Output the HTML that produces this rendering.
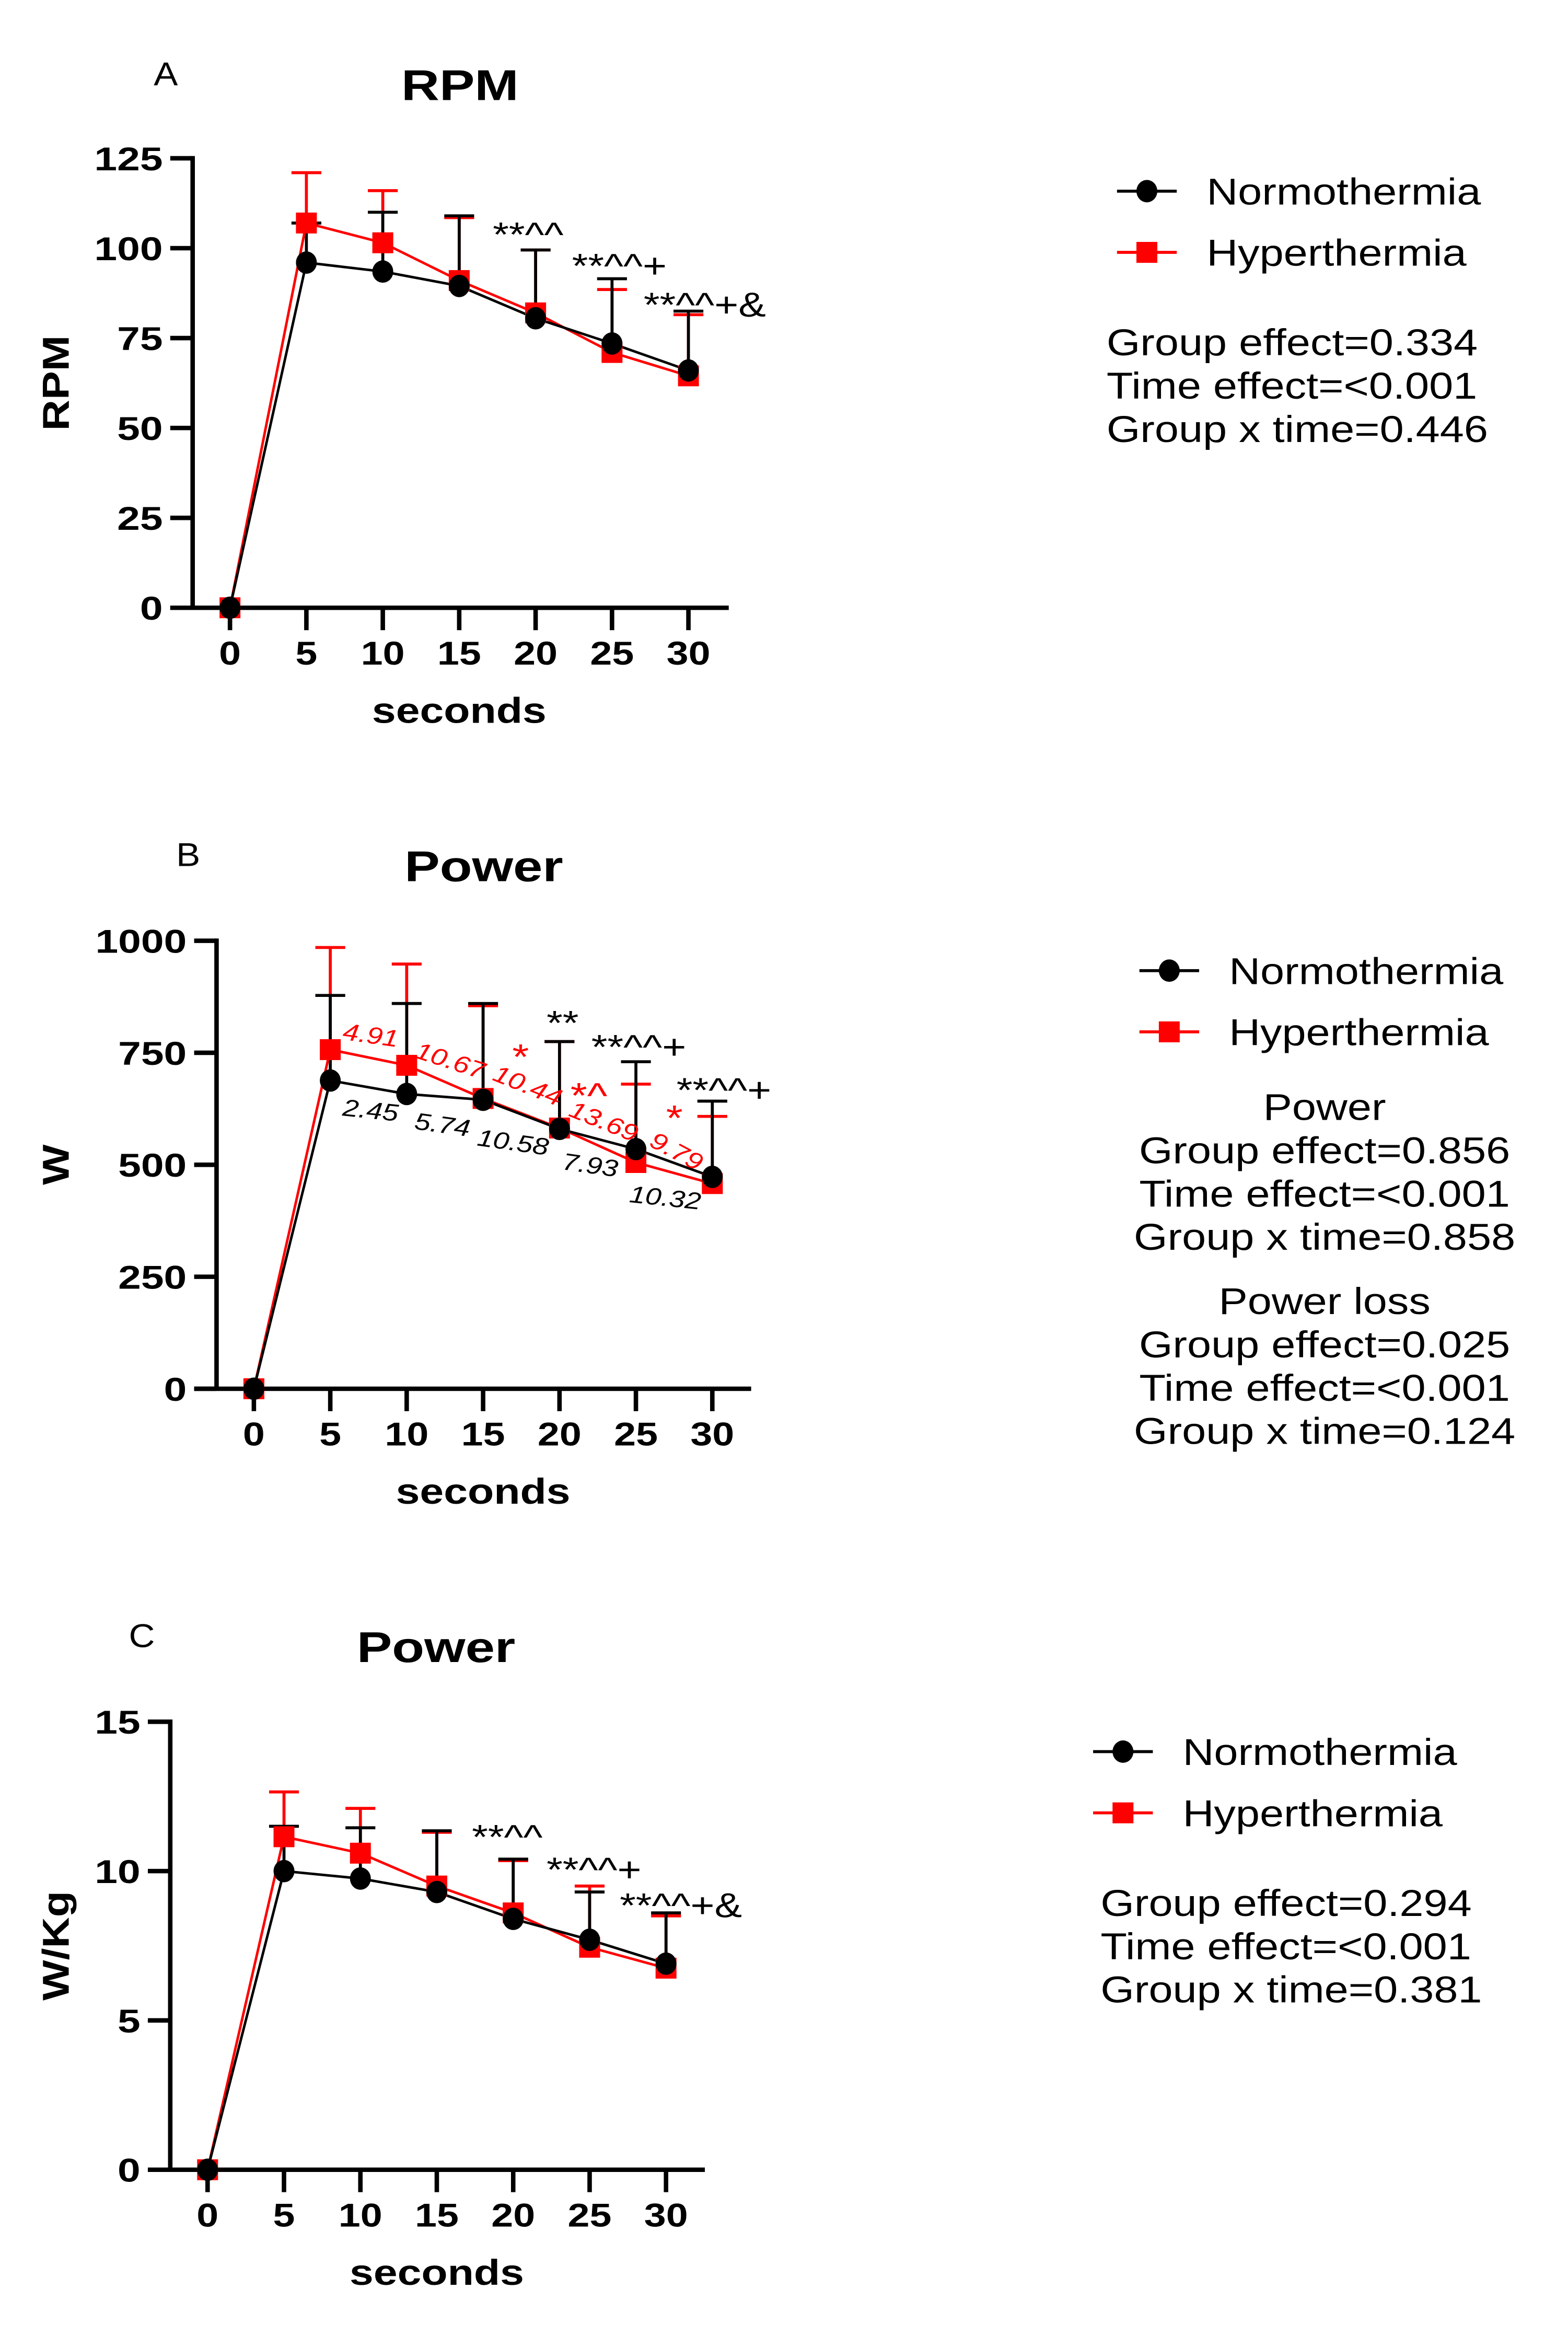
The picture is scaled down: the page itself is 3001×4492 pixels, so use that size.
<!DOCTYPE html>
<html><head><meta charset="utf-8"><style>
html,body{margin:0;padding:0;background:#fff}
svg{display:block}
text{font-family:"Liberation Sans",Arial,sans-serif}
.b{font-weight:bold}
</style></head><body>
<svg id="fig" xmlns="http://www.w3.org/2000/svg" width="3001" height="4492" viewBox="0 0 1050 1571.7">
<g id="static"></g>
</svg>
<script>
const xCats = [0,5,10,15,20,25,30];
const xTickLabels = ["0","5","10","15","20","25","30"];
const rpmNormo = [0,96,93.5,89.5,80.5,73.5,66];
const rpmNormoTop = [0,107,110,109,99.5,91.5,82.5];
const rpmHyper = [0,107,101.5,91,82,71,64.5];
const rpmHyperTop = [0,121,116,108.5,99.5,88.5,81.5];
const rpmTicks = [0,25,50,75,100,125];
const wNormo = [0,688,658,645,580,535,473];
const wNormoTop = [0,878,860,860,775,730,642];
const wHyper = [0,757,722,648,582,505,458];
const wHyperTop = [0,985,948,855,775,680,608];
const wTicks = [0,250,500,750,1000];
const wkgNormo = [0,10,9.75,9.3,8.4,7.7,6.9];
const wkgNormoTop = [0,11.5,11.45,11.35,10.4,9.3,8.6];
const wkgHyper = [0,11.15,10.6,9.5,8.6,7.45,6.75];
const wkgHyperTop = [0,12.65,12.1,11.3,10.35,9.5,8.5];
const wkgTicks = [0,5,10,15];
const NS='http://www.w3.org/2000/svg';
const svg=document.getElementById('fig');
function mk(tag,attrs,parent,txt){const e=document.createElementNS(NS,tag);for(const k in attrs)e.setAttribute(k,attrs[k]);if(txt!==undefined)e.textContent=txt;(parent||svg).appendChild(e);return e;}

function panel(p){
  const g=mk('g',{});
  
  
  const ymax=p.ticks[p.ticks.length-1];
  const X=v=>p.x0+(v/30)*(p.x30-p.x0);
  const Y=v=>p.y0+(v/ymax)*(p.yTop-p.y0);
  const ya=mk('line',{x1:p.ax,y1:p.yTop-1.5,x2:p.ax,y2:p.y0,stroke:'#000','stroke-width':3},g);
  
  
  const xa=mk('line',{x1:p.ax-15,y1:p.y0,x2:p.xEnd,y2:p.y0,stroke:'#000','stroke-width':3},g);
  
  
  p.ticks.forEach(t=>{
    mk('line',{x1:p.ax-15,y1:Y(t),x2:p.ax,y2:Y(t),stroke:'#000','stroke-width':3},g);
    const tl=mk('text',{x:p.ax-20,y:Y(t)+8,'text-anchor':'end','font-size':22,'class':'b','data-s':1.25},g,String(t));
    
    
  });
  xCats.forEach((c,i)=>{
    mk('line',{x1:X(c),y1:p.y0,x2:X(c),y2:p.y0+15,stroke:'#000','stroke-width':3},g);
    const tl=mk('text',{x:X(c),y:p.y0+38,'text-anchor':'middle','font-size':22,'class':'b','data-s':1.2},g,xTickLabels[i]);
    
    
  });
  function err(vals,tops,col,nm){
    vals.forEach((v,i)=>{ if(i===0)return;
      const e=mk('path',{d:`M${X(xCats[i])},${Y(v)}V${Y(tops[i])}M${X(xCats[i])-10},${Y(tops[i])}H${X(xCats[i])+10}`,stroke:col,'stroke-width':2,fill:'none'},g);
      
      
    });
  }
  err(p.hyper,p.hyperTop,'#f00','error-bar-hyperthermia');
  err(p.normo,p.normoTop,'#000','error-bar-normothermia');
  const lh=mk('polyline',{points:p.hyper.map((v,i)=>X(xCats[i])+','+Y(v)).join(' '),stroke:'#f00','stroke-width':1.7,fill:'none'},g);
  
  
  const ln=mk('polyline',{points:p.normo.map((v,i)=>X(xCats[i])+','+Y(v)).join(' '),stroke:'#000','stroke-width':1.7,fill:'none'},g);
  
  
  p.hyper.forEach((v,i)=>{
    const s=mk('rect',{x:X(xCats[i])-7,y:Y(v)-7,width:14,height:14,fill:'#f00'},g);
    
    
  });
  p.normo.forEach((v,i)=>{
    const c=mk('ellipse',{cx:X(xCats[i]),cy:Y(v),rx:7,ry:7.5,fill:'#000'},g);
    
    
  });
  const t=mk('text',{x:p.titleX,y:p.titleY,'text-anchor':'middle','font-size':29,'class':'b','data-s':1.22},g,p.title);
  
  
  const xl=mk('text',{x:(X(0)+X(30))/2,y:p.y0+77,'text-anchor':'middle','font-size':24,'class':'b','data-s':1.2},g,'seconds');
  
  
  const yl=mk('text',{x:0,y:0,'text-anchor':'middle','font-size':25,'class':'b','data-s':1.15,transform:`translate(${p.ylx},${(p.y0+p.yTop)/2}) rotate(-90)`},g,p.ylabel);
  
  
  const pl=mk('text',{x:p.letterX,y:p.letterY,'text-anchor':'middle','font-size':22,'data-s':1.1},g,p.letter);
  
  
  const lg=mk('g',{},g);
  
  
  mk('line',{x1:p.legX,y1:p.legY,x2:p.legX+40,y2:p.legY,stroke:'#000','stroke-width':2},lg);
  mk('ellipse',{cx:p.legX+20,cy:p.legY,rx:7,ry:7.5,fill:'#000'},lg);
  mk('text',{x:p.legX+60,y:p.legY+9,'font-size':25,'data-s':1.16},lg,'Normothermia');
  mk('line',{x1:p.legX,y1:p.legY+41,x2:p.legX+40,y2:p.legY+41,stroke:'#f00','stroke-width':2},lg);
  mk('rect',{x:p.legX+13,y:p.legY+34,width:14,height:14,fill:'#f00'},lg);
  mk('text',{x:p.legX+60,y:p.legY+50,'font-size':25,'data-s':1.16},lg,'Hyperthermia');
  p.stats.forEach(s=>{
    const st=mk('text',{x:s[0],y:s[1],'font-size':25,'text-anchor':s[3]||'start','data-s':1.16},g,s[2]);
    
    
  });
  p.notes.forEach(n=>{
    const a=mk('text',{x:n[0],y:n[1],'font-size':n[4]||23,fill:n[3]||'#000','font-style':n[6]||'normal','data-s':1.2,transform:n[5]?`rotate(${n[5]} ${n[0]} ${n[1]})`:''},g,n[2]);
    
    
  });
}

panel({name:'panel-a-rpm',ticks:rpmTicks,ax:129,yTop:106,y0:407,x0:154,x30:461,xEnd:488,
  normo:rpmNormo,normoTop:rpmNormoTop,hyper:rpmHyper,hyperTop:rpmHyperTop,
  title:'RPM',titleX:308,titleY:67,ylabel:'RPM',ylx:46,letter:'A',letterX:111,letterY:57,
  legX:748,legY:128,
  stats:[[741,238,'Group effect=0.334'],[741,267,'Time effect=<0.001'],[741,296,'Group x time=0.446']],
  notes:[[330,165,'**^^'],[383,186,'**^^+'],[431,212,'**^^+&']]});

panel({name:'panel-b-power-w',ticks:wTicks,ax:145,yTop:630,y0:930,x0:170,x30:477,xEnd:503,
  normo:wNormo,normoTop:wNormoTop,hyper:wHyper,hyperTop:wHyperTop,
  title:'Power',titleX:324,titleY:590,ylabel:'W',ylx:46,letter:'B',letterX:126,letterY:580,
  legX:763,legY:650,
  stats:[[887,750,'Power','middle'],[887,779,'Group effect=0.856','middle'],[887,808,'Time effect=<0.001','middle'],[887,837,'Group x time=0.858','middle'],
         [887,880,'Power loss','middle'],[887,909,'Group effect=0.025','middle'],[887,938,'Time effect=<0.001','middle'],[887,967,'Group x time=0.124','middle']],
  notes:[[229,696,'4.91','#f00',16,8,'italic'],[277,708,'10.67','#f00',16,18,'italic'],[329,723,'10.44','#f00',16,22,'italic'],[380,747,'13.69','#f00',16,22,'italic'],[434,767,'9.79','#f00',16,28,'italic'],
         [229,747,'2.45','#000',16,6,'italic'],[277,756,'5.74','#000',16,8,'italic'],[319,767,'10.58','#000',16,8,'italic'],[376,783,'7.93','#000',16,8,'italic'],[421,805,'10.32','#000',16,6,'italic'],
         [343,716,'*','#f00',24],[382,742,'*^','#f00',24],[446,757,'*','#f00',24],
         [366,693,'**'],[396,709,'**^^+'],[453,738,'**^^+']]});

panel({name:'panel-c-power-wkg',ticks:wkgTicks,ax:114,yTop:1153,y0:1453,x0:139,x30:446,xEnd:472,
  normo:wkgNormo,normoTop:wkgNormoTop,hyper:wkgHyper,hyperTop:wkgHyperTop,
  title:'Power',titleX:292,titleY:1113,ylabel:'W/Kg',ylx:46,letter:'C',letterX:95,letterY:1103,
  legX:732,legY:1173,
  stats:[[737,1283,'Group effect=0.294'],[737,1312,'Time effect=<0.001'],[737,1341,'Group x time=0.381']],
  notes:[[316,1238,'**^^'],[366,1260,'**^^+'],[415,1284,'**^^+&']]});

document.querySelectorAll('text[data-s]').forEach(t=>{
  const s=parseFloat(t.getAttribute('data-s'));
  const L=t.getComputedTextLength();
  if(L>0){t.setAttribute('textLength',(L*s).toFixed(2));t.setAttribute('lengthAdjust','spacingAndGlyphs');}
});
</script>
</body></html>
